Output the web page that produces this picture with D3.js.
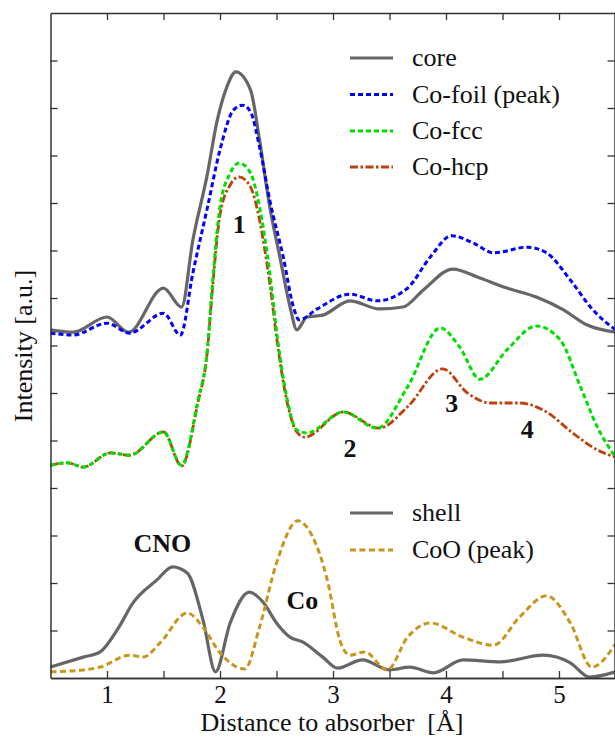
<!DOCTYPE html>
<html>
<head>
<meta charset="utf-8">
<script src="https://cdn.jsdelivr.net/npm/d3@7"></script>
<style>
  html, body { margin: 0; padding: 0; background: #fff; }
  svg { display: block; }
  text { font-family: "Liberation Serif", "Times New Roman", serif; fill: #111; }
</style>
</head>
<body>
<svg id="chart" width="615" height="737"></svg>
<script>
// Radial distribution curves: [distance (Å), intensity (a.u.)]
const core = [[0.5,7.33],[0.70,7.28],[1.0,7.60],[1.19,7.28],[1.50,8.21],[1.66,7.81],[1.76,9.22],[1.89,10.63],[1.97,11.68],[2.06,12.44],[2.14,12.76],[2.27,12.38],[2.35,11.33],[2.44,9.92],[2.53,8.86],[2.62,7.81],[2.68,7.33],[2.77,7.60],[2.91,7.64],[3.15,7.94],[3.41,7.77],[3.62,7.81],[3.80,8.17],[4.06,8.61],[4.30,8.42],[4.54,8.21],[4.80,8.02],[5.04,7.75],[5.25,7.43],[5.5,7.28]];
const coFoil = [[0.5,7.26],[0.70,7.22],[1.0,7.47],[1.20,7.26],[1.50,7.68],[1.65,7.22],[1.76,8.53],[1.89,9.92],[2.0,11.12],[2.12,11.96],[2.20,12.06],[2.27,11.92],[2.35,11.18],[2.44,10.06],[2.56,8.86],[2.65,7.81],[2.70,7.54],[2.86,7.77],[3.15,8.08],[3.39,7.94],[3.66,8.21],[3.86,8.86],[4.05,9.31],[4.24,9.16],[4.42,8.95],[4.72,9.07],[4.89,8.95],[5.10,8.38],[5.30,7.75],[5.5,7.33]];
const coFcc = [[0.5,4.48],[0.65,4.53],[0.79,4.44],[1.03,4.74],[1.20,4.69],[1.50,5.18],[1.66,4.48],[1.80,5.79],[1.89,6.97],[1.93,8.20],[2.0,9.92],[2.09,10.63],[2.17,10.84],[2.27,10.63],[2.35,9.92],[2.44,8.53],[2.51,7.12],[2.59,5.92],[2.68,5.22],[2.77,5.16],[3.09,5.60],[3.39,5.26],[3.66,6.13],[3.95,7.37],[4.12,6.97],[4.30,6.29],[4.54,6.91],[4.80,7.41],[5.01,7.12],[5.19,6.13],[5.34,5.28],[5.5,4.65]];
const coHcp = [[0.5,4.48],[0.65,4.53],[0.79,4.44],[1.03,4.74],[1.20,4.69],[1.50,5.18],[1.66,4.46],[1.80,5.75],[1.89,6.93],[1.93,8.10],[2.0,9.75],[2.09,10.38],[2.17,10.55],[2.27,10.34],[2.35,9.64],[2.44,8.32],[2.51,7.01],[2.59,5.85],[2.68,5.18],[2.75,5.07],[3.09,5.60],[3.41,5.26],[3.66,5.71],[3.97,6.51],[4.19,6.00],[4.39,5.79],[4.65,5.79],[4.89,5.60],[5.12,5.16],[5.34,4.80],[5.5,4.65]];
const shell = [[0.5,0.23],[0.79,0.44],[0.94,0.55],[1.10,1.05],[1.23,1.58],[1.44,2.06],[1.58,2.34],[1.71,2.21],[1.85,1.22],[1.96,0.13],[2.09,1.16],[2.26,1.81],[2.38,1.60],[2.50,1.16],[2.62,0.86],[2.73,0.76],[2.91,0.44],[3.04,0.21],[3.26,0.38],[3.50,0.17],[3.68,0.23],[3.89,0.11],[4.15,0.38],[4.48,0.34],[4.86,0.48],[5.10,0.32],[5.27,0.02],[5.5,0.13]];
const coO = [[0.5,0.13],[0.79,0.17],[0.94,0.23],[1.20,0.48],[1.32,0.44],[1.47,0.74],[1.71,1.37],[1.85,1.07],[2.0,0.53],[2.22,0.19],[2.35,1.07],[2.50,2.42],[2.69,3.31],[2.82,2.97],[2.95,2.06],[3.06,0.80],[3.15,0.48],[3.28,0.55],[3.48,0.17],[3.66,0.86],[3.86,1.16],[4.15,0.86],[4.42,0.69],[4.65,1.28],[4.89,1.73],[5.10,1.16],[5.29,0.23],[5.5,0.72]];

// Axis ticks
const xMajor = [1, 2, 3, 4, 5];
const xMinor = [1.5, 2.5, 3.5, 4.5, 5.5];
const yTicks = [1, 2, 3, 4, 5, 6, 7, 8, 9, 10, 11, 12, 13];

// Legend entries and peak annotations
const topLegend = ["core", "Co-foil (peak)", "Co-fcc", "Co-hcp"];
const bottomLegend = ["shell", "CoO (peak)"];
const peakLabels = [
  { text: "1", x: 2.17, y: 9.36 },
  { text: "2", x: 3.15, y: 4.65 },
  { text: "3", x: 4.05, y: 5.6 },
  { text: "4", x: 4.72, y: 5.05 },
  { text: "CNO", x: 1.49, y: 2.65 },
  { text: "Co", x: 2.73, y: 1.45 }
];

const styles = {
  "core":           { color: "#666666", width: 3.2, dash: null },
  "Co-foil (peak)": { color: "#0000ff", width: 3, dash: "5,3" },
  "Co-fcc":         { color: "#00dd00", width: 3, dash: "5,3" },
  "Co-hcp":         { color: "#c0400a", width: 2.8, dash: "8,2.5,2.5,2.5" },
  "shell":          { color: "#666666", width: 3.2, dash: null },
  "CoO (peak)":     { color: "#c8961c", width: 3, dash: "6,3.5" }
};

const svg = d3.select("#chart");
const x = d3.scaleLinear().domain([0.5, 5.5]).range([50.5, 615.5]);
const y = d3.scaleLinear().domain([0, 14]).range([678, 13]);

const line = d3.line()
  .x(d => x(d[0]))
  .y(d => y(d[1]))
  .curve(d3.curveMonotoneX);

const plot = svg.append("g");
const seriesOrder = [
  ["core", core], ["Co-foil (peak)", coFoil], ["Co-hcp", coHcp], ["Co-fcc", coFcc],
  ["shell", shell], ["CoO (peak)", coO]
];
seriesOrder.forEach(([name, data]) => {
  const s = styles[name];
  plot.append("path")
    .datum(data)
    .attr("d", line)
    .attr("fill", "none")
    .attr("stroke", s.color)
    .attr("stroke-width", s.width)
    .attr("stroke-linejoin", "round")
    .attr("stroke-dasharray", s.dash);
});

// Frame with inward ticks on all four sides
const axisColor = "#333";
function styleAxis(g) {
  g.attr("font-family", null).attr("font-size", null);
  g.select(".domain").attr("stroke", axisColor).attr("stroke-width", 1.5);
  g.selectAll(".tick line").attr("stroke", axisColor).attr("stroke-width", 1.3);
}
const bottomAx = svg.append("g").attr("transform", `translate(0,${y(0)})`)
  .call(d3.axisBottom(x).tickValues(xMajor).tickSize(-7).tickSizeOuter(0).tickPadding(6.75).tickFormat(d3.format("d")));
styleAxis(bottomAx);
bottomAx.selectAll("text").attr("font-size", 25).attr("fill", "#111");
const bottomMinor = svg.append("g").attr("transform", `translate(0,${y(0)})`)
  .call(d3.axisBottom(x).tickValues(xMinor).tickSize(-7).tickSizeOuter(0).tickFormat(""));
styleAxis(bottomMinor);

const topAx = svg.append("g").attr("transform", `translate(0,${y(14)})`)
  .call(d3.axisTop(x).tickValues(xMajor.concat(xMinor)).tickSize(-7).tickSizeOuter(0).tickFormat(""));
styleAxis(topAx);

const leftAx = svg.append("g").attr("transform", `translate(${x(0.5)},0)`)
  .call(d3.axisLeft(y).tickValues(yTicks).tickSize(-7).tickSizeOuter(0).tickFormat(""));
styleAxis(leftAx);

const rightAx = svg.append("g").attr("transform", `translate(${x(5.5) - 1},0)`)
  .call(d3.axisRight(y).tickValues(yTicks).tickSize(-7).tickSizeOuter(0).tickFormat(""));
styleAxis(rightAx);

// Axis titles
svg.append("text")
  .attr("x", 332).attr("y", 731.3)
  .attr("text-anchor", "middle")
  .attr("font-size", 26)
  .attr("xml:space", "preserve")
  .text("Distance to absorber  [Å]");
svg.append("text")
  .attr("transform", "translate(32,346) rotate(-90)")
  .attr("text-anchor", "middle")
  .attr("font-size", 26)
  .text("Intensity [a.u.]");

// Legends
function drawLegend(names, rowYs) {
  names.forEach((name, i) => {
    const s = styles[name];
    const yy = rowYs[i];
    svg.append("line")
      .attr("x1", 350).attr("x2", 393)
      .attr("y1", yy).attr("y2", yy)
      .attr("stroke", s.color)
      .attr("stroke-width", s.width)
      .attr("stroke-dasharray", s.dash);
    svg.append("text")
      .attr("x", 412).attr("y", yy + 8)
      .attr("font-size", 26)
      .text(name);
  });
}
drawLegend(topLegend, [58, 94.5, 131, 167]);
drawLegend(bottomLegend, [513, 550]);

// Peak annotations
svg.selectAll("text.peak")
  .data(peakLabels)
  .join("text")
  .attr("class", "peak")
  .attr("x", d => x(d.x))
  .attr("y", d => y(d.y))
  .attr("text-anchor", "middle")
  .attr("font-size", 26)
  .attr("font-weight", "bold")
  .text(d => d.text);
</script>
</body>
</html>
